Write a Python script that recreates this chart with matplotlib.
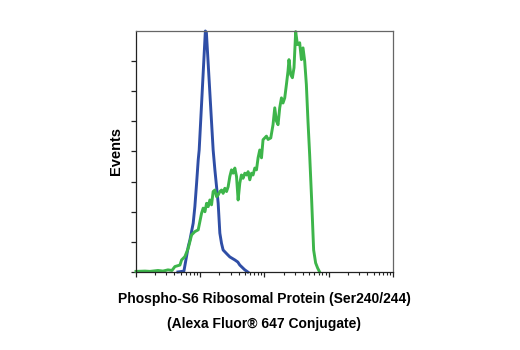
import matplotlib

matplotlib.use("Agg")
import numpy as np
import matplotlib.pyplot as plt
from matplotlib.ticker import LogLocator, NullFormatter

# Histogram traces: log10 fluorescence intensity vs. event count (scaled units)
blue_log = [0.659, 0.752, 0.819, 0.845, 0.896, 0.922, 0.949, 0.974, 0.989, 1.085,
            1.101, 1.206, 1.233, 1.259, 1.284, 1.310, 1.336, 1.361, 1.419, 1.465,
            1.543, 1.589, 1.620, 1.698, 1.744]
blue_events = [0.00, 0.03, 0.84, 1.06, 1.62, 2.17, 2.95, 3.72, 4.05, 8.00,
               7.95, 4.05, 3.39, 2.83, 2.28, 1.29, 0.95, 0.73, 0.60, 0.50,
               0.40, 0.33, 0.23, 0.07, 0.00]

green_log = [0.008, 0.147, 0.225, 0.349, 0.426, 0.504, 0.566, 0.612, 0.690, 0.716,
             0.767, 0.819, 0.871, 0.922, 0.974, 1.026, 1.051, 1.078, 1.104, 1.129,
             1.155, 1.181, 1.206, 1.233, 1.259, 1.284, 1.310, 1.336, 1.361, 1.388,
             1.414, 1.439, 1.465, 1.491, 1.516, 1.543, 1.569, 1.594, 1.620, 1.645,
             1.671, 1.698, 1.724, 1.749, 1.775, 1.802, 1.826, 1.853, 1.879, 1.904,
             1.930, 1.957, 1.981, 2.034, 2.059, 2.101, 2.136, 2.163, 2.189, 2.214,
             2.240, 2.267, 2.291, 2.318, 2.344, 2.369, 2.384, 2.411, 2.437, 2.462,
             2.488, 2.515, 2.550, 2.577, 2.602, 2.628, 2.654, 2.679, 2.705, 2.736,
             2.767, 2.798, 2.829, 2.860]
green_events = [0.02, 0.03, 0.02, 0.05, 0.03, 0.07, 0.05, 0.18, 0.23, 0.40,
                0.51, 0.79, 1.23, 1.34, 1.40, 1.95, 2.12, 2.00, 2.28, 2.17,
                2.39, 2.23, 2.67, 2.72, 2.50, 2.56, 2.67, 2.72, 2.61, 2.78,
                2.67, 2.83, 3.17, 3.39, 3.28, 3.45, 3.17, 2.39, 2.95, 3.22,
                3.11, 3.28, 3.22, 3.33, 3.06, 3.28, 3.22, 3.45, 3.39, 3.79,
                4.05, 3.79, 4.39, 4.51, 4.40, 4.45, 4.89, 5.45, 5.01, 4.89,
                5.45, 5.78, 5.61, 5.78, 6.22, 6.67, 7.05, 6.55, 6.45, 6.78,
                7.98, 7.55, 7.61, 7.05, 7.44, 7.00, 6.22, 5.01, 3.90, 2.39,
                0.73, 0.30, 0.13, 0.00]

x_label = "Phospho-S6 Ribosomal Protein (Ser240/244)\n(Alexa Fluor® 647 Conjugate)"
y_label = "Events"

font = ["Liberation Sans Narrow", "Liberation Sans", "DejaVu Sans"]

fig = plt.figure(figsize=(5.2, 3.5), dpi=100)
ax = fig.add_axes((0.2606, 0.2229, 0.4952, 0.6885))

ax.plot(10 ** np.asarray(blue_log), blue_events, color="#2f4ea6", lw=2.1,
        solid_joinstyle="round", clip_on=False)
ax.plot(10 ** np.asarray(green_log), green_events, color="#3db54a", lw=2.1,
        solid_joinstyle="round", clip_on=False)

ax.set_xscale("log")
ax.set_xlim(1, 1e4)
ax.set_ylim(0, 8)
ax.xaxis.set_major_locator(LogLocator(base=10, numticks=10))
ax.xaxis.set_minor_locator(LogLocator(base=10, subs=np.arange(2, 10), numticks=10))
ax.xaxis.set_major_formatter(NullFormatter())
ax.xaxis.set_minor_formatter(NullFormatter())
ax.set_yticks(range(0, 8))
ax.set_yticklabels([])

ax.tick_params(axis="both", which="major", direction="out", length=3.8,
               width=0.9, color="#222222")
ax.tick_params(axis="x", which="minor", direction="out", length=2.2,
               width=0.8, color="#222222")

for side in ("left", "bottom"):
    ax.spines[side].set_color("#222222")
    ax.spines[side].set_linewidth(0.9)
for side in ("top", "right"):
    ax.spines[side].set_color("#666666")
    ax.spines[side].set_linewidth(0.9)

ax.set_xlabel(x_label, family=font, fontweight="bold", fontsize=10,
              linespacing=2.0, labelpad=7)
ax.set_ylabel(y_label, family=font, fontweight="bold", fontsize=10.5, labelpad=2)

fig.savefig("out.png", dpi=100, facecolor="white")
